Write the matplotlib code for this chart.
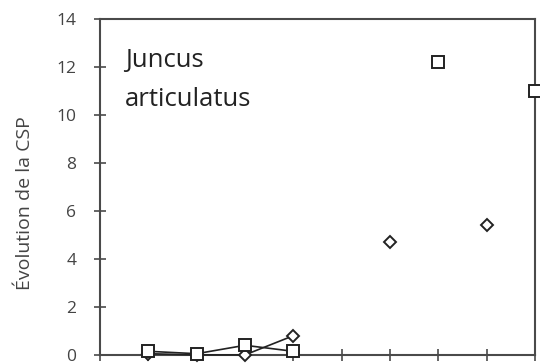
import numpy as np
import matplotlib
matplotlib.use("Agg")
import matplotlib.pyplot as plt

plt.rcParams["font.family"] = ["Open Sans", "DejaVu Sans"]

# x positions (sampling dates, unlabeled on the axis)
x_vals = [1, 2, 3, 4, 5, 6, 7, 8, 9]
# diamond series (gaps as NaN)
diamond_vals = [0.05, 0.0, 0.0, 0.8, np.nan, 4.7, np.nan, 5.4, np.nan]
# square series
square_vals = [0.15, 0.05, 0.4, 0.15, np.nan, np.nan, 12.2, np.nan, 11.0]
y_ticks = [0, 2, 4, 6, 8, 10, 12, 14]

AX = "#4a4a4a"

fig = plt.figure(figsize=(5.4, 3.64), dpi=100)
ax = fig.add_axes([0.185, 0.025, 0.806, 0.923])

ax.plot(x_vals, diamond_vals, color="#222222", lw=1.2, marker="D",
        ms=6, mfc="white", mec="#222222", mew=1.4, clip_on=False, zorder=3)
ax.plot(x_vals, square_vals, color="#222222", lw=1.2, marker="s",
        ms=8, mfc="white", mec="#222222", mew=1.4, clip_on=False, zorder=4)

ax.set_xlim(0, 9)
ax.set_ylim(0, 14)
ax.set_xticks(range(0, 10))
ax.set_xticklabels([])
ax.set_yticks(y_ticks)
ax.tick_params(axis="both", direction="inout", length=8, width=1.2,
               color=AX, labelcolor="#444444")
ax.tick_params(axis="y", pad=13, labelsize=12.5)
for s in ax.spines.values():
    s.set_color(AX)
    s.set_linewidth(1.5)

ax.set_ylabel("Évolution de la CSP", fontsize=14, color="#444444")
ax.yaxis.set_label_coords(-0.152, 0.452)

ax.text(0.058, 0.857, "Juncus", transform=ax.transAxes, fontsize=18.5,
        color="#222222", va="baseline", ha="left")
ax.text(0.058, 0.741, "articulatus", transform=ax.transAxes, fontsize=18.5,
        color="#222222", va="baseline", ha="left")

fig.savefig("out.png", dpi=100)
